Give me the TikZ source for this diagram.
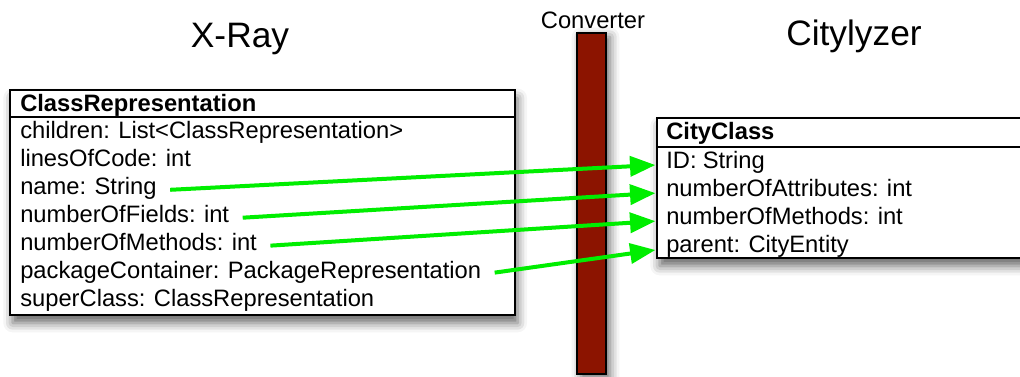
\documentclass[tikz,border=0pt]{standalone}
\usepackage{fontspec}
\setmainfont{Liberation Sans}
\usetikzlibrary{arrows.meta,shadows.blur}
\definecolor{barred}{RGB}{140,20,0}
\definecolor{mapgreen}{RGB}{0,238,0}

\begin{document}
\begin{tikzpicture}[x=0.75pt,y=-0.75pt,
	title/.style={font=\fontsize{26.5}{30}\selectfont,anchor=base},
	row/.style={font=\fontsize{17.8}{21}\selectfont,execute at begin node={\spaceskip=0.26em\relax},anchor=base west,inner sep=0pt},
	head/.style={row,font=\fontsize{17.8}{21}\selectfont\bfseries},
	box/.style={draw,line width=1.5pt,fill=white,blur shadow={shadow xshift=2pt,shadow yshift=-6pt,shadow blur radius=7pt,shadow opacity=60}},
	map/.style={draw=mapgreen,line width=3pt,-{Triangle[length=19pt,width=15pt]},shorten <=10pt,shorten >=8pt}]
	\useasboundingbox (0,0) rectangle (1020,376);
	\clip (0,0) rectangle (1020,376);

	% the two class boxes and the converter bar
	\draw[box] (10,90) rectangle (515,315);
	\draw[line width=1.5pt] (10,117) -- (515,117);
	\draw[box] (657,118) rectangle (1040,258);
	\draw[line width=1.5pt] (657,147) -- (1040,147);
	\draw[line width=1.5pt,fill=barred,blur shadow={shadow xshift=3pt,shadow yshift=-3pt,shadow blur radius=7pt,shadow opacity=60}] (577,33) rectangle (606,374);

	\node[title] (xray) at (240,47) {X-Ray};
	\node[title] (citylyzer) at (854,45) {Citylyzer};
	\node[title,font=\fontsize{17.8}{20}\selectfont] (converter) at (593,28) {Converter};

	\node[head] (classrep) at (20,111) {ClassRepresentation};
	\node[row] (children) at (20,138) {children: List<ClassRepresentation>};
	\node[row] (loc) at (20,166) {linesOfCode: int};
	\node[row] (name) at (20,194) {name: String};
	\node[row] (fields) at (20,222) {numberOfFields: int};
	\node[row] (methods) at (20,250) {numberOfMethods: int};
	\node[row] (container) at (20,278) {packageContainer: PackageRepresentation};
	\node[row] (super) at (20,306) {superClass: ClassRepresentation};

	\node[head] (cityclass) at (666,139) {CityClass};
	\node[row] (id) at (666,168) {ID: String};
	\node[row] (attrs) at (666,196) {numberOfAttributes: int};
	\node[row] (citymethods) at (666,224) {numberOfMethods: int};
	\node[row] (parent) at (666,252) {parent: CityEntity};

	\draw[map] (name.mid east) -- (id.mid west);
	\draw[map] (fields.mid east) -- (attrs.mid west);
	\draw[map] (methods.mid east) -- (citymethods.mid west);
	\draw[map] (container.mid east) -- (parent.mid west);
\end{tikzpicture}
\end{document}
